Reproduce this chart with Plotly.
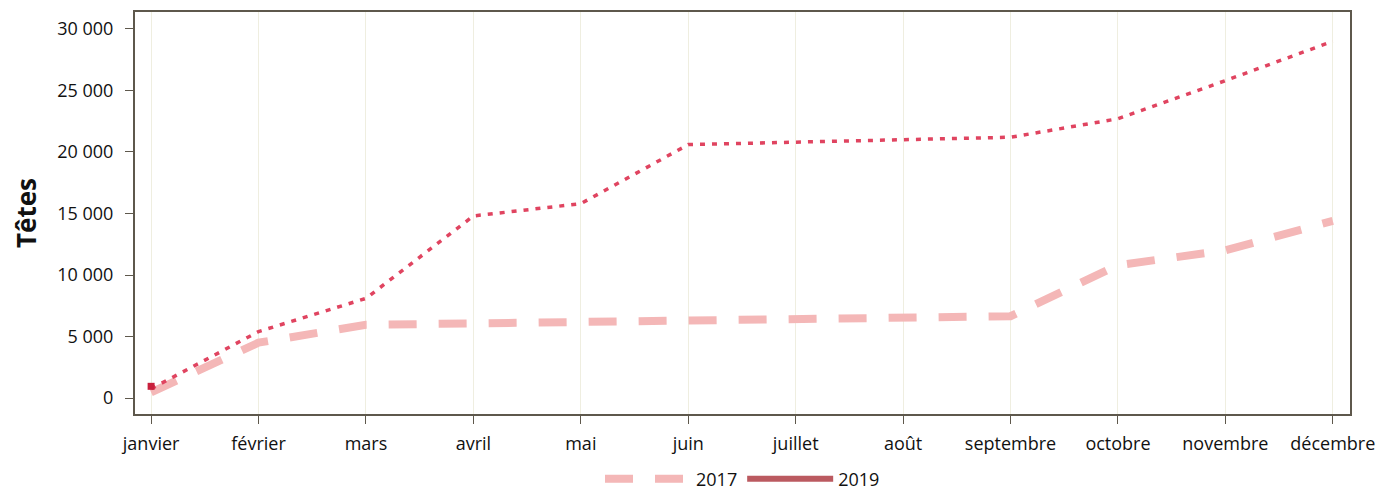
import plotly.graph_objects as go

months = ["janvier", "février", "mars", "avril", "mai", "juin", "juillet",
          "août", "septembre", "octobre", "novembre", "décembre"]
values_2017 = [450, 4500, 5950, 6050, 6200, 6350, 6450, 6550, 6650, 10800, 12000, 14400]
values_2018 = [750, 5400, 8100, 14800, 15800, 20600, 20800, 21000, 21200, 22700, 25800, 29000]
months_2019 = ["janvier"]
values_2019 = [950]

fig = go.Figure()
fig.add_trace(go.Scatter(
    x=months, y=values_2017, mode="lines", name="2017",
    line=dict(color="#f4b7b7", width=8, dash="28px,22px"),
))
fig.add_trace(go.Scatter(
    x=months, y=values_2018, mode="lines", name="2018", showlegend=False,
    line=dict(color="#e04460", width=3.5, dash="5px,7px"),
))
fig.add_trace(go.Scatter(
    x=months_2019, y=values_2019, mode="lines", name="2019",
    line=dict(color="#bb5a60", width=6),
))
fig.add_trace(go.Scatter(
    x=months_2019, y=values_2019, mode="markers", showlegend=False,
    marker=dict(color="#c8203c", size=7, symbol="square"),
))

fig.update_layout(
    width=1374, height=483,
    margin=dict(l=127, r=32, t=4, b=77, autoexpand=False),
    plot_bgcolor="white", paper_bgcolor="white",
    font=dict(family="Open Sans", size=18, color="#111111"),
    separators=", ",
    showlegend=True,
    legend=dict(orientation="h", x=0.5, xanchor="center", y=-0.162, yanchor="middle",
                font=dict(size=18), itemwidth=86),
)
fig.update_xaxes(
    range=[-0.15, 11.16], showgrid=True, gridcolor="#efeee0", gridwidth=1,
    showline=True, linecolor="#5e584c", linewidth=2, mirror=True,
    ticks="outside", ticklen=8, tickcolor="#5e584c", automargin=False,
    ticklabelstandoff=4,
)
fig.update_yaxes(
    range=[-1300, 31380], tickvals=[0, 5000, 10000, 15000, 20000, 25000, 30000],
    tickformat=",d", showgrid=False, zeroline=False,
    showline=True, linecolor="#5e584c", linewidth=2, mirror=True,
    ticks="outside", ticklen=8, tickcolor="#5e584c", automargin=False,
    ticklabelstandoff=8,
    title=dict(text="<b>Têtes</b>", font=dict(size=26), standoff=28),
)

fig.write_html("out.html")
